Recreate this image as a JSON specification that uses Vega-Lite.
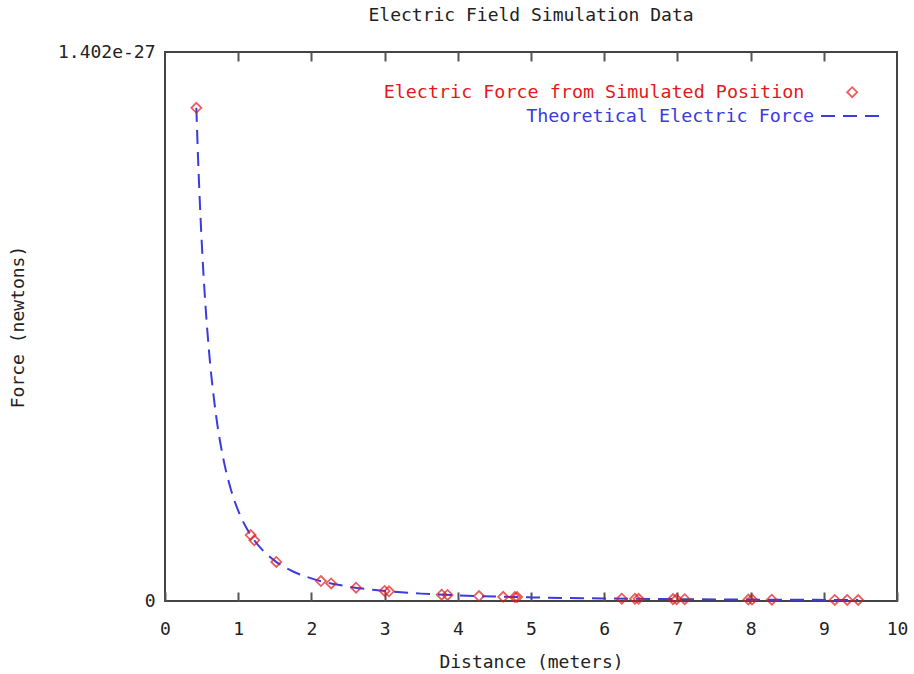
{
  "$schema": "https://vega.github.io/schema/vega-lite/v6.json",
  "autosize": "none",
  "width": 732,
  "height": 549,
  "padding": {"left": 165, "top": 52, "right": 17, "bottom": 73},
  "background": "white",
  "title": {"text": "Electric Field Simulation Data", "anchor": "middle", "baseline": "bottom", "offset": 0, "font": "DejaVu Sans Mono", "fontSize": 18, "fontWeight": "normal", "color": "#222"},
  "datasets": {
    "theory": [
      {"distance": 0.428, "force": 1.2594e-27},
      {"distance": 0.45, "force": 1.1393e-27},
      {"distance": 0.5, "force": 9.228e-28},
      {"distance": 0.55, "force": 7.626e-28},
      {"distance": 0.6, "force": 6.408e-28},
      {"distance": 0.7, "force": 4.708e-28},
      {"distance": 0.8, "force": 3.605e-28},
      {"distance": 0.9, "force": 2.848e-28},
      {"distance": 1.0, "force": 2.307e-28},
      {"distance": 1.1, "force": 1.907e-28},
      {"distance": 1.2, "force": 1.602e-28},
      {"distance": 1.35, "force": 1.266e-28},
      {"distance": 1.5, "force": 1.025e-28},
      {"distance": 1.75, "force": 7.533e-29},
      {"distance": 2.0, "force": 5.768e-29},
      {"distance": 2.5, "force": 3.691e-29},
      {"distance": 3.0, "force": 2.563e-29},
      {"distance": 3.5, "force": 1.883e-29},
      {"distance": 4.0, "force": 1.442e-29},
      {"distance": 5.0, "force": 9.23e-30},
      {"distance": 6.0, "force": 6.41e-30},
      {"distance": 7.0, "force": 4.71e-30},
      {"distance": 8.0, "force": 3.6e-30},
      {"distance": 9.0, "force": 2.85e-30},
      {"distance": 9.47, "force": 2.57e-30}
    ],
    "sim": [
      {"distance": 0.428, "force": 1.2594e-27},
      {"distance": 1.17, "force": 1.685e-28},
      {"distance": 1.22, "force": 1.55e-28},
      {"distance": 1.52, "force": 9.985e-29},
      {"distance": 2.13, "force": 5.085e-29},
      {"distance": 2.27, "force": 4.477e-29},
      {"distance": 2.61, "force": 3.387e-29},
      {"distance": 3.0, "force": 2.563e-29},
      {"distance": 3.06, "force": 2.464e-29},
      {"distance": 3.78, "force": 1.615e-29},
      {"distance": 3.86, "force": 1.548e-29},
      {"distance": 4.29, "force": 1.254e-29},
      {"distance": 4.62, "force": 1.081e-29},
      {"distance": 4.78, "force": 1.01e-29},
      {"distance": 4.81, "force": 9.97e-30},
      {"distance": 6.24, "force": 5.92e-30},
      {"distance": 6.42, "force": 5.6e-30},
      {"distance": 6.47, "force": 5.51e-30},
      {"distance": 6.94, "force": 4.79e-30},
      {"distance": 6.99, "force": 4.72e-30},
      {"distance": 7.1, "force": 4.58e-30},
      {"distance": 7.97, "force": 3.63e-30},
      {"distance": 8.02, "force": 3.59e-30},
      {"distance": 8.29, "force": 3.36e-30},
      {"distance": 9.15, "force": 2.76e-30},
      {"distance": 9.32, "force": 2.66e-30},
      {"distance": 9.47, "force": 2.57e-30}
    ]
  },
  "layer": [
    {
      "data": {"name": "theory"},
      "mark": {"type": "line", "strokeDash": [14, 8], "strokeWidth": 2, "interpolate": "monotone"},
      "encoding": {
        "x": {"field": "distance", "type": "quantitative", "scale": {"domain": [0, 10], "nice": false},
          "axis": {"orient": "bottom", "title": "Distance (meters)", "values": [0,1,2,3,4,5,6,7,8,9,10], "tickSize": -9, "labelPadding": 28, "labelFlush": false, "titlePadding": 15}},
        "y": {"field": "force", "type": "quantitative", "scale": {"domain": [0, 1.402e-27], "nice": false, "zero": true},
          "axis": {"title": "Force (newtons)", "values": [0, 1.402e-27], "labelExpr": "datum.value > 0 ? '1.402e-27' : '0'", "ticks": false, "labelPadding": 10, "labelFlush": false, "titlePadding": 30}},
        "color": {"datum": "Theoretical Electric Force", "scale": {"range": ["#3b3be0"]},
          "legend": {"orient": "none", "legendX": 655, "legendY": 30, "title": null, "padding": 0, "labelAlign": "right", "labelOffset": -74, "labelLimit": 0, "labelColor": "#3b3be0", "labelFont": "DejaVu Sans Mono", "labelFontSize": 18.4, "symbolType": "stroke", "symbolSize": 4356, "symbolDash": [14, 8], "symbolStrokeWidth": 2}}
      }
    },
    {
      "data": {"name": "sim"},
      "mark": {"type": "point", "shape": "diamond", "filled": false, "size": 100, "strokeWidth": 1.8},
      "encoding": {
        "x": {"field": "distance", "type": "quantitative",
          "axis": {"orient": "top", "title": null, "labels": false, "values": [1,2,3,4,5,6,7,8,9], "tickSize": -9}},
        "y": {"field": "force", "type": "quantitative"},
        "color": {"datum": "Electric Force from Simulated Position", "scale": {"range": ["#e3191c"]},
          "legend": {"orient": "none", "legendX": 678, "legendY": 31, "title": null, "padding": 0, "labelAlign": "right", "labelOffset": -57, "labelLimit": 0, "labelColor": "#e3191c", "labelFont": "DejaVu Sans Mono", "labelFontSize": 18.4, "symbolType": "diamond", "symbolSize": 100, "symbolStrokeWidth": 1.8, "symbolFillColor": "transparent"}}
      }
    }
  ],
  "resolve": {"axis": {"x": "independent"}, "scale": {"color": "independent"}},
  "config": {
    "font": "DejaVu Sans Mono",
    "view": {"stroke": "#444", "strokeWidth": 2},
    "axis": {"domain": false, "grid": false, "tickColor": "#555", "tickWidth": 2, "labelFont": "DejaVu Sans Mono", "labelFontSize": 18, "labelColor": "#222", "titleFont": "DejaVu Sans Mono", "titleFontSize": 18, "titleFontWeight": "normal", "titleColor": "#222"}
  }
}
